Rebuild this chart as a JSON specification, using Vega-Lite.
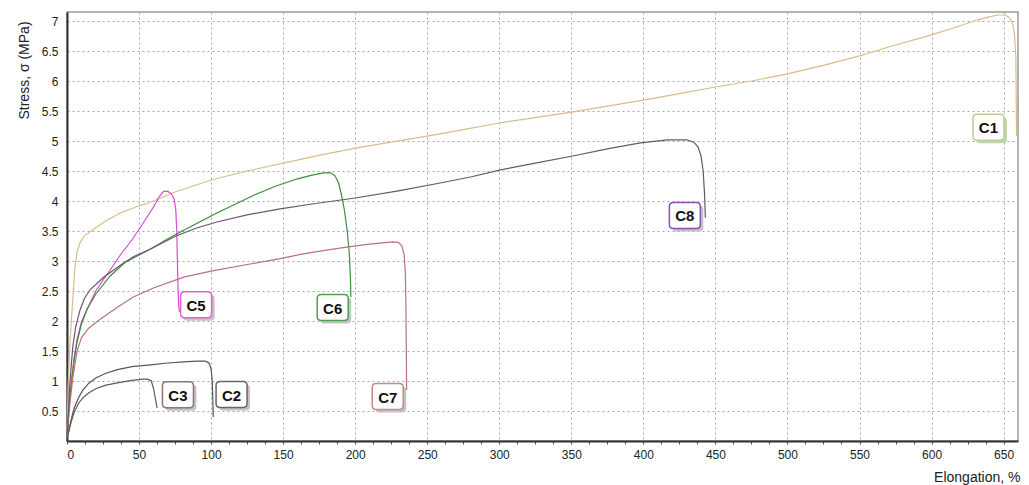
{
  "$schema": "https://vega.github.io/schema/vega-lite/v6.json",
  "width": 951,
  "height": 429,
  "autosize": "none",
  "padding": {"left": 67, "top": 12, "right": 11, "bottom": 44},
  "background": "white",
  "config": {
    "view": {"stroke": "#9a9a9a", "strokeWidth": 1.5},
    "font": "Liberation Sans"
  },
  "datasets": {
    "curves": [
      {"s":"C1","e":0,"v":0.05},{"s":"C1","e":0.7,"v":0.9},{"s":"C1","e":2,"v":1.6},{"s":"C1","e":3.5,"v":2.18},{"s":"C1","e":5.5,"v":2.9},{"s":"C1","e":7,"v":3.15},{"s":"C1","e":9,"v":3.3},{"s":"C1","e":12,"v":3.42},{"s":"C1","e":18,"v":3.52},{"s":"C1","e":27,"v":3.67},{"s":"C1","e":37,"v":3.8},{"s":"C1","e":50,"v":3.92},{"s":"C1","e":57,"v":3.97},{"s":"C1","e":75,"v":4.15},{"s":"C1","e":100,"v":4.35},{"s":"C1","e":125,"v":4.5},{"s":"C1","e":150,"v":4.63},{"s":"C1","e":175,"v":4.76},{"s":"C1","e":200,"v":4.88},{"s":"C1","e":225,"v":4.98},{"s":"C1","e":250,"v":5.08},{"s":"C1","e":275,"v":5.19},{"s":"C1","e":300,"v":5.3},{"s":"C1","e":325,"v":5.39},{"s":"C1","e":350,"v":5.48},{"s":"C1","e":375,"v":5.58},{"s":"C1","e":400,"v":5.68},{"s":"C1","e":425,"v":5.79},{"s":"C1","e":450,"v":5.9},{"s":"C1","e":475,"v":6.0},{"s":"C1","e":500,"v":6.12},{"s":"C1","e":525,"v":6.26},{"s":"C1","e":550,"v":6.42},{"s":"C1","e":575,"v":6.6},{"s":"C1","e":600,"v":6.77},{"s":"C1","e":620,"v":6.92},{"s":"C1","e":632,"v":7.02},{"s":"C1","e":640,"v":7.07},{"s":"C1","e":646,"v":7.1},{"s":"C1","e":651,"v":7.1},{"s":"C1","e":654,"v":7.06},{"s":"C1","e":656,"v":6.98},{"s":"C1","e":657.5,"v":6.8},{"s":"C1","e":658.5,"v":6.4},{"s":"C1","e":659,"v":5.08},
      {"s":"C2","e":0,"v":0.05},{"s":"C2","e":1.5,"v":0.2},{"s":"C2","e":3,"v":0.37},{"s":"C2","e":5,"v":0.55},{"s":"C2","e":8,"v":0.72},{"s":"C2","e":11,"v":0.85},{"s":"C2","e":15,"v":0.96},{"s":"C2","e":20,"v":1.05},{"s":"C2","e":27,"v":1.13},{"s":"C2","e":35,"v":1.19},{"s":"C2","e":45,"v":1.24},{"s":"C2","e":58,"v":1.27},{"s":"C2","e":70,"v":1.3},{"s":"C2","e":81,"v":1.32},{"s":"C2","e":90,"v":1.33},{"s":"C2","e":96,"v":1.33},{"s":"C2","e":98.5,"v":1.3},{"s":"C2","e":100,"v":1.2},{"s":"C2","e":100.8,"v":1.0},{"s":"C2","e":101.2,"v":0.7},{"s":"C2","e":101.5,"v":0.4},
      {"s":"C3","e":0,"v":0.05},{"s":"C3","e":1.5,"v":0.18},{"s":"C3","e":3,"v":0.33},{"s":"C3","e":5,"v":0.48},{"s":"C3","e":8,"v":0.63},{"s":"C3","e":11,"v":0.72},{"s":"C3","e":15,"v":0.8},{"s":"C3","e":20,"v":0.87},{"s":"C3","e":27,"v":0.93},{"s":"C3","e":35,"v":0.97},{"s":"C3","e":45,"v":1.01},{"s":"C3","e":53,"v":1.03},{"s":"C3","e":56,"v":1.03},{"s":"C3","e":58.5,"v":1.0},{"s":"C3","e":60,"v":0.88},{"s":"C3","e":61,"v":0.75},{"s":"C3","e":62,"v":0.62},{"s":"C3","e":62.5,"v":0.55},
      {"s":"C5","e":0,"v":0.05},{"s":"C5","e":1,"v":0.45},{"s":"C5","e":2,"v":0.75},{"s":"C5","e":3.5,"v":1.1},{"s":"C5","e":5,"v":1.4},{"s":"C5","e":7,"v":1.7},{"s":"C5","e":10,"v":1.98},{"s":"C5","e":14,"v":2.2},{"s":"C5","e":20,"v":2.5},{"s":"C5","e":25,"v":2.68},{"s":"C5","e":30,"v":2.85},{"s":"C5","e":37,"v":3.1},{"s":"C5","e":45,"v":3.35},{"s":"C5","e":52,"v":3.6},{"s":"C5","e":60,"v":3.9},{"s":"C5","e":64,"v":4.07},{"s":"C5","e":67,"v":4.16},{"s":"C5","e":70,"v":4.16},{"s":"C5","e":72.5,"v":4.12},{"s":"C5","e":74.5,"v":4.02},{"s":"C5","e":75.5,"v":3.85},{"s":"C5","e":76.2,"v":3.5},{"s":"C5","e":76.6,"v":3.0},{"s":"C5","e":77,"v":2.6},{"s":"C5","e":77.4,"v":2.3},{"s":"C5","e":78,"v":2.15},
      {"s":"C6","e":0,"v":0.05},{"s":"C6","e":1,"v":0.4},{"s":"C6","e":2,"v":0.7},{"s":"C6","e":3.5,"v":1.05},{"s":"C6","e":5,"v":1.35},{"s":"C6","e":7,"v":1.65},{"s":"C6","e":10,"v":1.95},{"s":"C6","e":14,"v":2.2},{"s":"C6","e":20,"v":2.45},{"s":"C6","e":30,"v":2.75},{"s":"C6","e":40,"v":2.97},{"s":"C6","e":50,"v":3.1},{"s":"C6","e":58,"v":3.2},{"s":"C6","e":70,"v":3.37},{"s":"C6","e":80,"v":3.5},{"s":"C6","e":92,"v":3.65},{"s":"C6","e":104,"v":3.8},{"s":"C6","e":117,"v":3.95},{"s":"C6","e":130,"v":4.1},{"s":"C6","e":145,"v":4.25},{"s":"C6","e":160,"v":4.37},{"s":"C6","e":170,"v":4.43},{"s":"C6","e":178,"v":4.47},{"s":"C6","e":183,"v":4.47},{"s":"C6","e":186,"v":4.42},{"s":"C6","e":188.5,"v":4.3},{"s":"C6","e":190.5,"v":4.1},{"s":"C6","e":192.5,"v":3.85},{"s":"C6","e":194.5,"v":3.5},{"s":"C6","e":196,"v":3.1},{"s":"C6","e":196.7,"v":2.7},{"s":"C6","e":197,"v":2.4},
      {"s":"C7","e":0,"v":0.05},{"s":"C7","e":1,"v":0.35},{"s":"C7","e":2,"v":0.62},{"s":"C7","e":4,"v":1.05},{"s":"C7","e":7,"v":1.5},{"s":"C7","e":10,"v":1.72},{"s":"C7","e":15,"v":1.88},{"s":"C7","e":23,"v":2.03},{"s":"C7","e":35,"v":2.23},{"s":"C7","e":46,"v":2.4},{"s":"C7","e":60,"v":2.55},{"s":"C7","e":81,"v":2.73},{"s":"C7","e":100,"v":2.83},{"s":"C7","e":127,"v":2.95},{"s":"C7","e":148,"v":3.04},{"s":"C7","e":162,"v":3.11},{"s":"C7","e":180,"v":3.18},{"s":"C7","e":194,"v":3.23},{"s":"C7","e":210,"v":3.28},{"s":"C7","e":226,"v":3.32},{"s":"C7","e":230,"v":3.31},{"s":"C7","e":232.5,"v":3.25},{"s":"C7","e":234,"v":3.1},{"s":"C7","e":234.8,"v":2.8},{"s":"C7","e":235.2,"v":2.3},{"s":"C7","e":235.5,"v":1.5},{"s":"C7","e":235.7,"v":0.85},
      {"s":"C8","e":0,"v":0.05},{"s":"C8","e":1,"v":0.5},{"s":"C8","e":2,"v":0.97},{"s":"C8","e":4,"v":1.57},{"s":"C8","e":6,"v":1.9},{"s":"C8","e":9,"v":2.18},{"s":"C8","e":12,"v":2.37},{"s":"C8","e":16,"v":2.52},{"s":"C8","e":25,"v":2.72},{"s":"C8","e":37,"v":2.93},{"s":"C8","e":46,"v":3.07},{"s":"C8","e":58,"v":3.2},{"s":"C8","e":76,"v":3.42},{"s":"C8","e":90,"v":3.55},{"s":"C8","e":104,"v":3.65},{"s":"C8","e":125,"v":3.77},{"s":"C8","e":148,"v":3.87},{"s":"C8","e":170,"v":3.95},{"s":"C8","e":200,"v":4.05},{"s":"C8","e":230,"v":4.17},{"s":"C8","e":259,"v":4.3},{"s":"C8","e":280,"v":4.4},{"s":"C8","e":301,"v":4.52},{"s":"C8","e":325,"v":4.63},{"s":"C8","e":351,"v":4.75},{"s":"C8","e":375,"v":4.87},{"s":"C8","e":398,"v":4.97},{"s":"C8","e":417,"v":5.02},{"s":"C8","e":430,"v":5.02},{"s":"C8","e":435,"v":4.98},{"s":"C8","e":438,"v":4.9},{"s":"C8","e":440,"v":4.75},{"s":"C8","e":441.5,"v":4.5},{"s":"C8","e":442.5,"v":4.1},{"s":"C8","e":443,"v":3.72}
    ],
    "labels": [
      {"s":"C1","e":639.5,"v":5.23},
      {"s":"C2","e":114.2,"v":0.775},
      {"s":"C3","e":77,"v":0.77},
      {"s":"C5","e":89.6,"v":2.27},
      {"s":"C6","e":184.4,"v":2.225},
      {"s":"C7","e":222.6,"v":0.74},
      {"s":"C8","e":428.8,"v":3.76}
    ]
  },
  "encoding": {
    "x": {
      "field": "e", "type": "quantitative",
      "scale": {"domain": [0, 660], "nice": false, "zero": false},
      "axis": {
        "values": [0,12.5,25,37.5,50,62.5,75,87.5,100,112.5,125,137.5,150,162.5,175,187.5,200,212.5,225,237.5,250,262.5,275,287.5,300,312.5,325,337.5,350,362.5,375,387.5,400,412.5,425,437.5,450,462.5,475,487.5,500,512.5,525,537.5,550,562.5,575,587.5,600,612.5,625,637.5,650],
        "labelExpr": "datum.value % 50 === 0 ? format(datum.value, 'd') : ''",
        "labelFont": "Liberation Sans", "labelFontSize": 12, "labelColor": "#222",
        "labelPadding": 5, "labelOverlap": false,
        "tickSize": 3, "tickColor": "#555",
        "grid": true,
        "gridColor": "#a8a8a8", "gridDash": [2, 3], "gridWidth": 1,
        "gridOpacity": {"condition": {"test": "datum.value % 50 === 0", "value": 1}, "value": 0},
        "domainColor": "#333", "domainWidth": 2,
        "title": "Elongation, %",
        "titleFont": "Liberation Sans", "titleFontSize": 14, "titleFontWeight": "normal", "titleColor": "#222",
        "titleAlign": "right", "titleAnchor": null, "titleX": 953, "titleY": 36, "titleBaseline": "middle"
      }
    },
    "y": {
      "field": "v", "type": "quantitative",
      "scale": {"domain": [0, 7.15], "nice": false, "zero": false},
      "axis": {
        "values": [0.5,1,1.5,2,2.5,3,3.5,4,4.5,5,5.5,6,6.5,7],
        "format": "~g",
        "labelFont": "Liberation Sans", "labelFontSize": 12, "labelColor": "#222",
        "labelPadding": 9, "tickSize": 0,
        "grid": true, "gridColor": "#a8a8a8", "gridDash": [2, 3], "gridWidth": 1,
        "domainColor": "#333", "domainWidth": 2,
        "title": "Stress, σ (MPa)",
        "titleFont": "Liberation Sans", "titleFontSize": 14, "titleFontWeight": "normal", "titleColor": "#222",
        "titleAngle": -90, "titleAlign": "center", "titleAnchor": null, "titleBaseline": "middle",
        "titleX": -43, "titleY": 58
      }
    }
  },
  "layer": [
    {
      "data": {"name": "curves"},
      "mark": {"type": "line", "strokeWidth": 1.2, "interpolate": "linear"},
      "encoding": {
        "color": {
          "field": "s", "type": "nominal", "legend": null,
          "scale": {"domain": ["C1","C2","C3","C5","C6","C7","C8"], "range": ["#d8bd8a","#555555","#6a5550","#d84ad0","#3c8c3c","#b57575","#6a5570"]}
        }
      }
    },
    {
      "data": {"name": "labels"},
      "mark": {"type": "point", "filled": true, "opacity": 1, "xOffset": 3, "yOffset": 3, "size": 961, "strokeWidth": 0,
        "shape": "M-0.74,-0.84 L0.74,-0.84 Q1,-0.84 1,-0.58 L1,0.58 Q1,0.84 0.74,0.84 L-0.74,0.84 Q-1,0.84 -1,0.58 L-1,-0.58 Q-1,-0.84 -0.74,-0.84 Z"},
      "encoding": {
        "fill": {
          "field": "s", "type": "nominal", "legend": null,
          "scale": {"domain": ["C1","C2","C3","C5","C6","C7","C8"], "range": ["#bcd6b0","#c4c4c4","#c4c4c4","#c4c4c4","#c4c4c4","#c4c4c4","#c4c4c4"]}
        }
      }
    },
    {
      "data": {"name": "labels"},
      "mark": {"type": "point", "filled": false, "fill": "white", "fillOpacity": 1, "opacity": 1, "size": 961, "strokeWidth": 1.5,
        "shape": "M-0.74,-0.84 L0.74,-0.84 Q1,-0.84 1,-0.58 L1,0.58 Q1,0.84 0.74,0.84 L-0.74,0.84 Q-1,0.84 -1,0.58 L-1,-0.58 Q-1,-0.84 -0.74,-0.84 Z"},
      "encoding": {
        "stroke": {
          "field": "s", "type": "nominal", "legend": null,
          "scale": {"domain": ["C1","C2","C3","C5","C6","C7","C8"], "range": ["#c2c894","#666666","#8a7570","#e060d8","#50a050","#c08a8a","#9050a8"]}
        }
      }
    },
    {
      "data": {"name": "labels"},
      "mark": {"type": "text", "font": "Liberation Sans", "fontSize": 15, "fontWeight": "bold", "color": "#111", "align": "center", "baseline": "middle", "dy": 1},
      "encoding": {"text": {"field": "s"}}
    }
  ]
}
